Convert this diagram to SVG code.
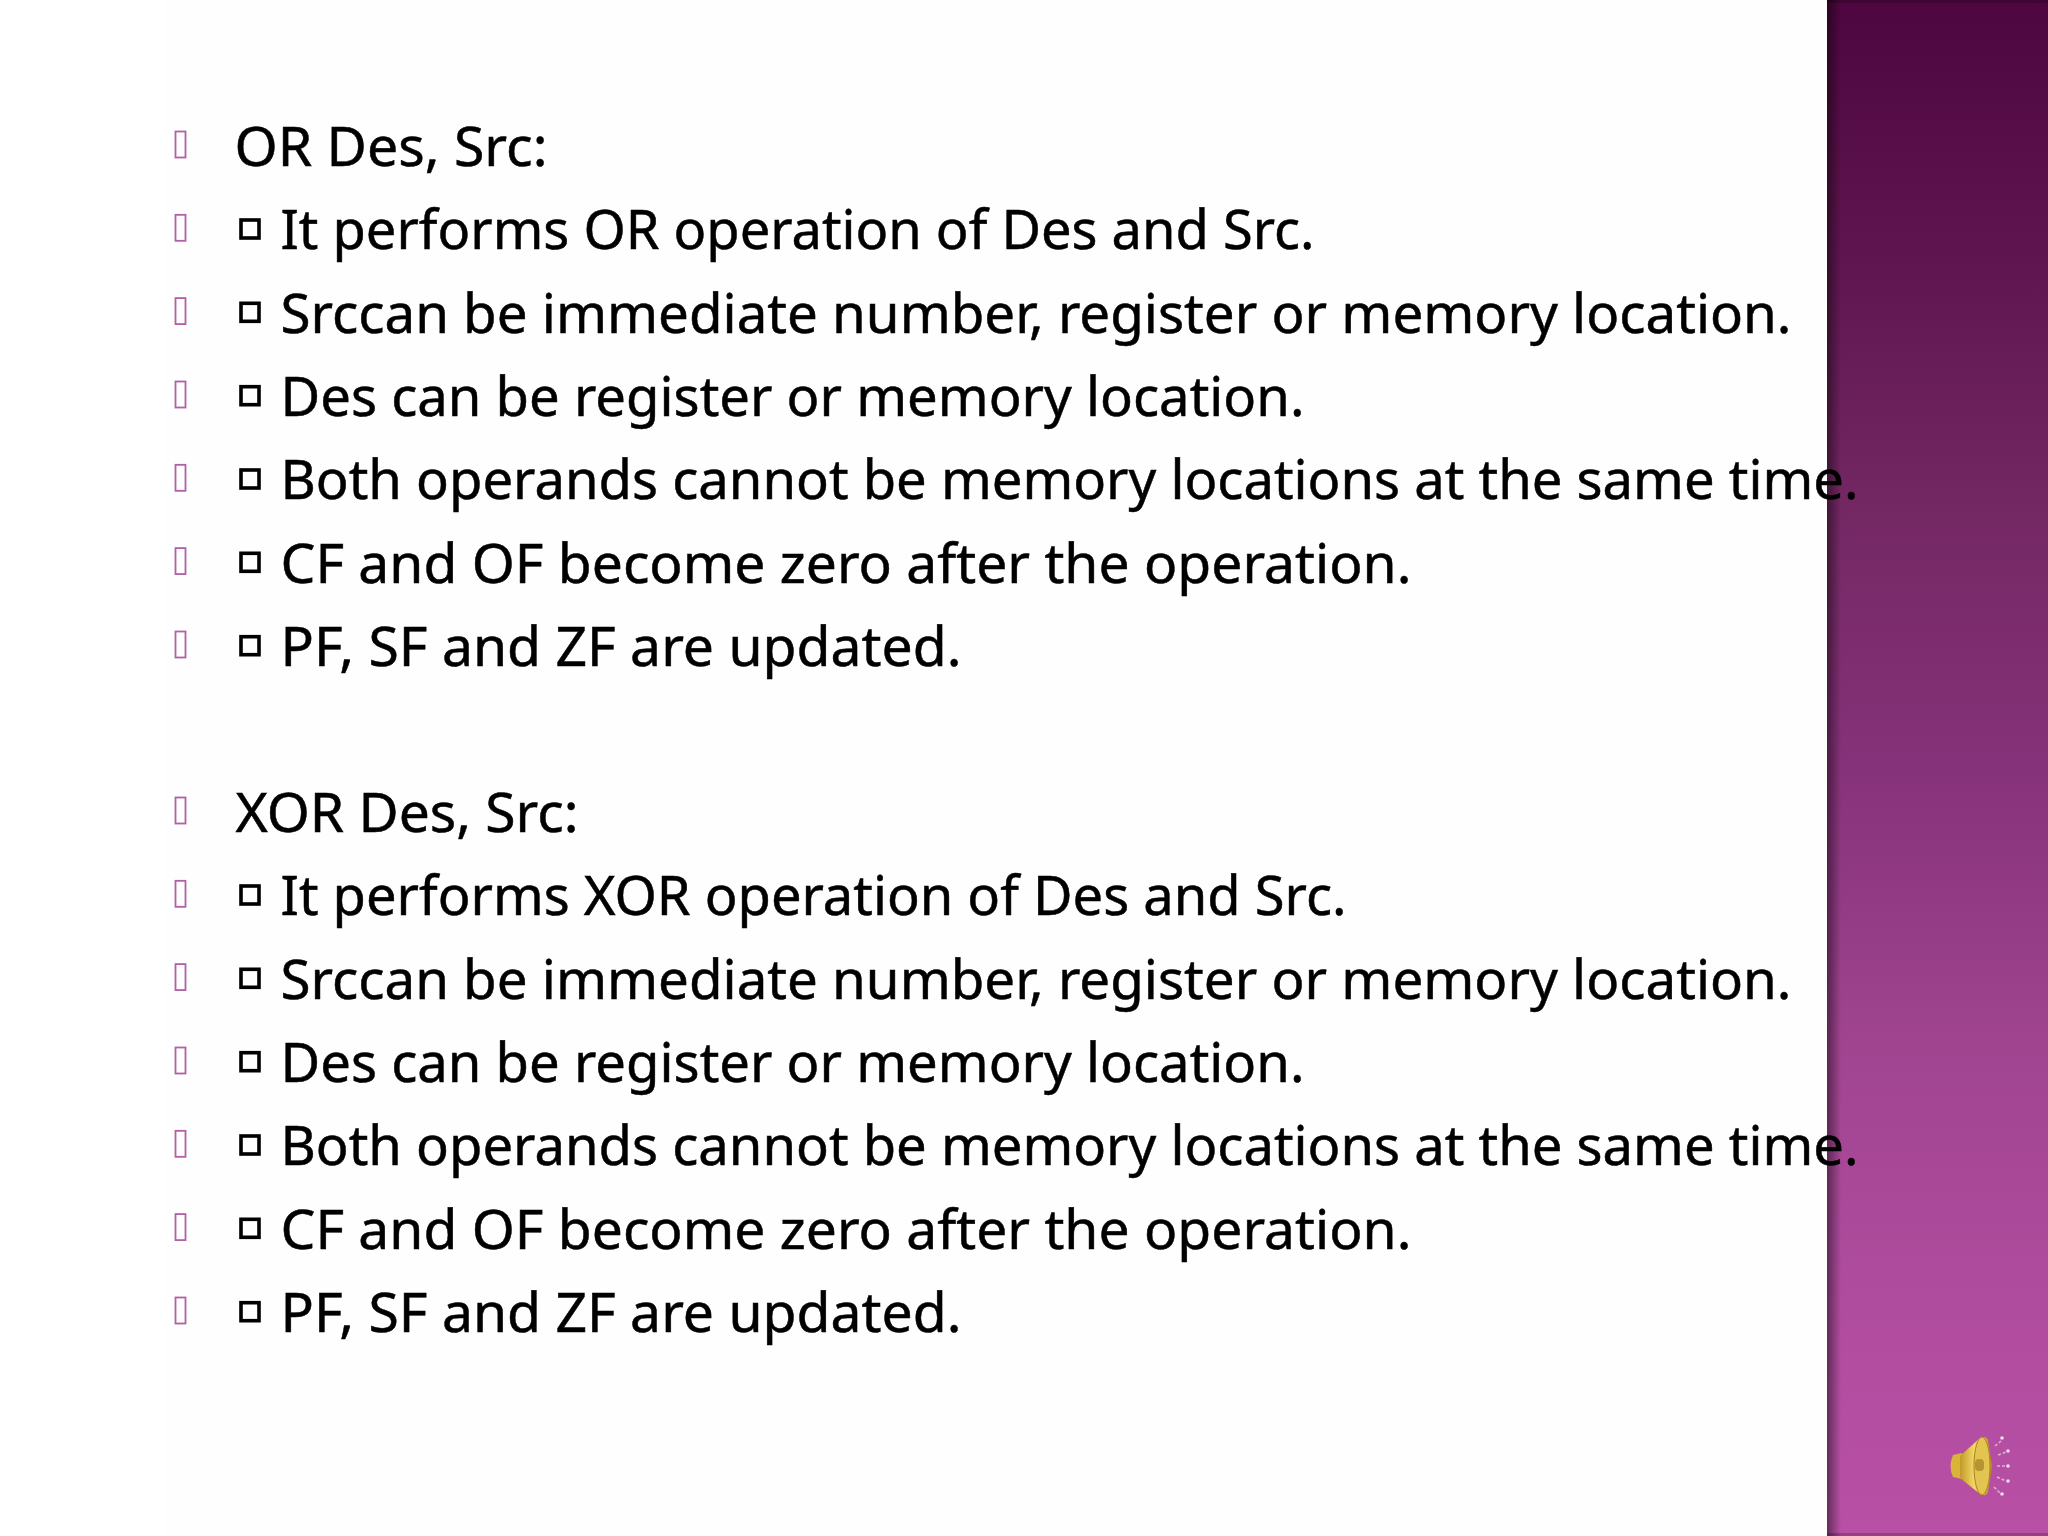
<svg xmlns="http://www.w3.org/2000/svg" width="2048" height="1536" viewBox="0 0 2048 1536">
<style>
text{font-family:"Noto Sans","Open Sans","DejaVu Sans",sans-serif;font-size:54px;fill:#000;stroke:#000;stroke-width:.5}
.b{fill:none;stroke:#b060a4;stroke-width:1.8}
.s{fill:none;stroke:#000;stroke-width:3.6}
.d{fill:#f0dcf4}
.r{stroke:#dcb0d8;stroke-width:1.5;stroke-dasharray:3 2;fill:none}
</style>
<defs>
<linearGradient id="p" x1="0" y1="0" x2="0" y2="1">
<stop offset="0" stop-color="#4e0640"/><stop offset="0.17" stop-color="#5f1650"/><stop offset="0.34" stop-color="#742864"/><stop offset="0.5" stop-color="#86327a"/><stop offset="0.68" stop-color="#a04490"/><stop offset="0.85" stop-color="#b04c9e"/><stop offset="1" stop-color="#b850a6"/>
</linearGradient>
<linearGradient id="sh" x1="0" y1="0" x2="1" y2="0">
<stop offset="0" stop-color="#000" stop-opacity="0.45"/><stop offset="1" stop-color="#000" stop-opacity="0"/>
</linearGradient>
<linearGradient id="g" x1="0" y1="0" x2="1" y2="0">
<stop offset="0" stop-color="#c09a28"/><stop offset="0.45" stop-color="#f4d868"/><stop offset="1" stop-color="#b88c20"/>
</linearGradient>
</defs>
<rect width="2048" height="1536" fill="#ffffff"/>
<rect x="165" y="0" width="1662" height="1536" fill="#fefefe"/>
<g id="side-panel">
<rect x="1827" y="0" width="221" height="1536" fill="url(#p)"/>
<rect x="1827" y="0" width="14" height="1536" fill="url(#sh)"/>
<rect x="1827" y="0" width="221" height="3" fill="#000" fill-opacity="0.2"/>
<rect x="1827" y="1533" width="221" height="3" fill="#000" fill-opacity="0.2"/>
</g>
<g id="speaker">
<path d="M1953 1455L1962 1453L1962 1479L1953 1477Q1948 1466 1953 1455Z" fill="#d8b438"/>
<path d="M1960 1456L1980 1438Q1986 1435 1988 1440L1992 1466L1988 1492Q1986 1497 1980 1494L1960 1478Z" fill="url(#g)"/>
<ellipse cx="1982" cy="1466" rx="8" ry="29" fill="#e4c450" stroke="#a88420" stroke-width="1"/>
<rect x="1975" y="1459" width="9" height="12" rx="4" fill="#b89430"/>
<path class="r" d="M1995 1446L2001 1441M1998 1455L2006 1452M1997 1466L2006 1466M1997 1477L2006 1481M1994 1487L2000 1493"/>
<circle class="d" cx="2002" cy="1438" r="1.8"/><circle class="d" cx="2008" cy="1451" r="1.8"/><circle class="d" cx="2008" cy="1466" r="1.8"/><circle class="d" cx="2008" cy="1481" r="1.8"/><circle class="d" cx="2002" cy="1494" r="1.8"/>
</g>
<g id="or-block">
<rect class="b" x="175.5" y="131.5" width="10" height="26"/><text x="234.5" y="166" textLength="313" lengthAdjust="spacingAndGlyphs">OR Des, Src:</text>
<rect class="b" x="175.5" y="214.8" width="10" height="26"/><rect class="s" x="241" y="220" width="18" height="18"/><text x="280.5" y="249.3" textLength="1034" lengthAdjust="spacingAndGlyphs">It performs OR operation of Des and Src.</text>
<rect class="b" x="175.5" y="298.1" width="10" height="26"/><rect class="s" x="241" y="303.3" width="18" height="18"/><text x="280.5" y="332.6" textLength="1511" lengthAdjust="spacingAndGlyphs">Srccan be immediate number, register or memory location.</text>
<rect class="b" x="175.5" y="381.5" width="10" height="26"/><rect class="s" x="241" y="386.7" width="18" height="18"/><text x="280.5" y="416" textLength="1024" lengthAdjust="spacingAndGlyphs">Des can be register or memory location.</text>
<rect class="b" x="175.5" y="464.8" width="10" height="26"/><rect class="s" x="241" y="470" width="18" height="18"/><text x="280.5" y="499.3" textLength="1578" lengthAdjust="spacingAndGlyphs">Both operands cannot be memory locations at the same time.</text>
<rect class="b" x="175.5" y="548.1" width="10" height="26"/><rect class="s" x="241" y="553.3" width="18" height="18"/><text x="280.5" y="582.6" textLength="1131" lengthAdjust="spacingAndGlyphs">CF and OF become zero after the operation.</text>
<rect class="b" x="175.5" y="631.5" width="10" height="26"/><rect class="s" x="241" y="636.7" width="18" height="18"/><text x="280.5" y="666" textLength="681" lengthAdjust="spacingAndGlyphs">PF, SF and ZF are updated.</text>
</g>
<g id="xor-block">
<rect class="b" x="175.5" y="797.5" width="10" height="26"/><text x="235.5" y="832" textLength="343" lengthAdjust="spacingAndGlyphs">XOR Des, Src:</text>
<rect class="b" x="175.5" y="880.8" width="10" height="26"/><rect class="s" x="241" y="886" width="18" height="18"/><text x="280.5" y="915.3" textLength="1066" lengthAdjust="spacingAndGlyphs">It performs XOR operation of Des and Src.</text>
<rect class="b" x="175.5" y="964.1" width="10" height="26"/><rect class="s" x="241" y="969.3" width="18" height="18"/><text x="280.5" y="998.6" textLength="1511" lengthAdjust="spacingAndGlyphs">Srccan be immediate number, register or memory location.</text>
<rect class="b" x="175.5" y="1047.5" width="10" height="26"/><rect class="s" x="241" y="1052.7" width="18" height="18"/><text x="280.5" y="1082" textLength="1024" lengthAdjust="spacingAndGlyphs">Des can be register or memory location.</text>
<rect class="b" x="175.5" y="1130.8" width="10" height="26"/><rect class="s" x="241" y="1136" width="18" height="18"/><text x="280.5" y="1165.3" textLength="1578" lengthAdjust="spacingAndGlyphs">Both operands cannot be memory locations at the same time.</text>
<rect class="b" x="175.5" y="1214.1" width="10" height="26"/><rect class="s" x="241" y="1219.3" width="18" height="18"/><text x="280.5" y="1248.6" textLength="1131" lengthAdjust="spacingAndGlyphs">CF and OF become zero after the operation.</text>
<rect class="b" x="175.5" y="1297.5" width="10" height="26"/><rect class="s" x="241" y="1302.7" width="18" height="18"/><text x="280.5" y="1332" textLength="681" lengthAdjust="spacingAndGlyphs">PF, SF and ZF are updated.</text>
</g>
</svg>
